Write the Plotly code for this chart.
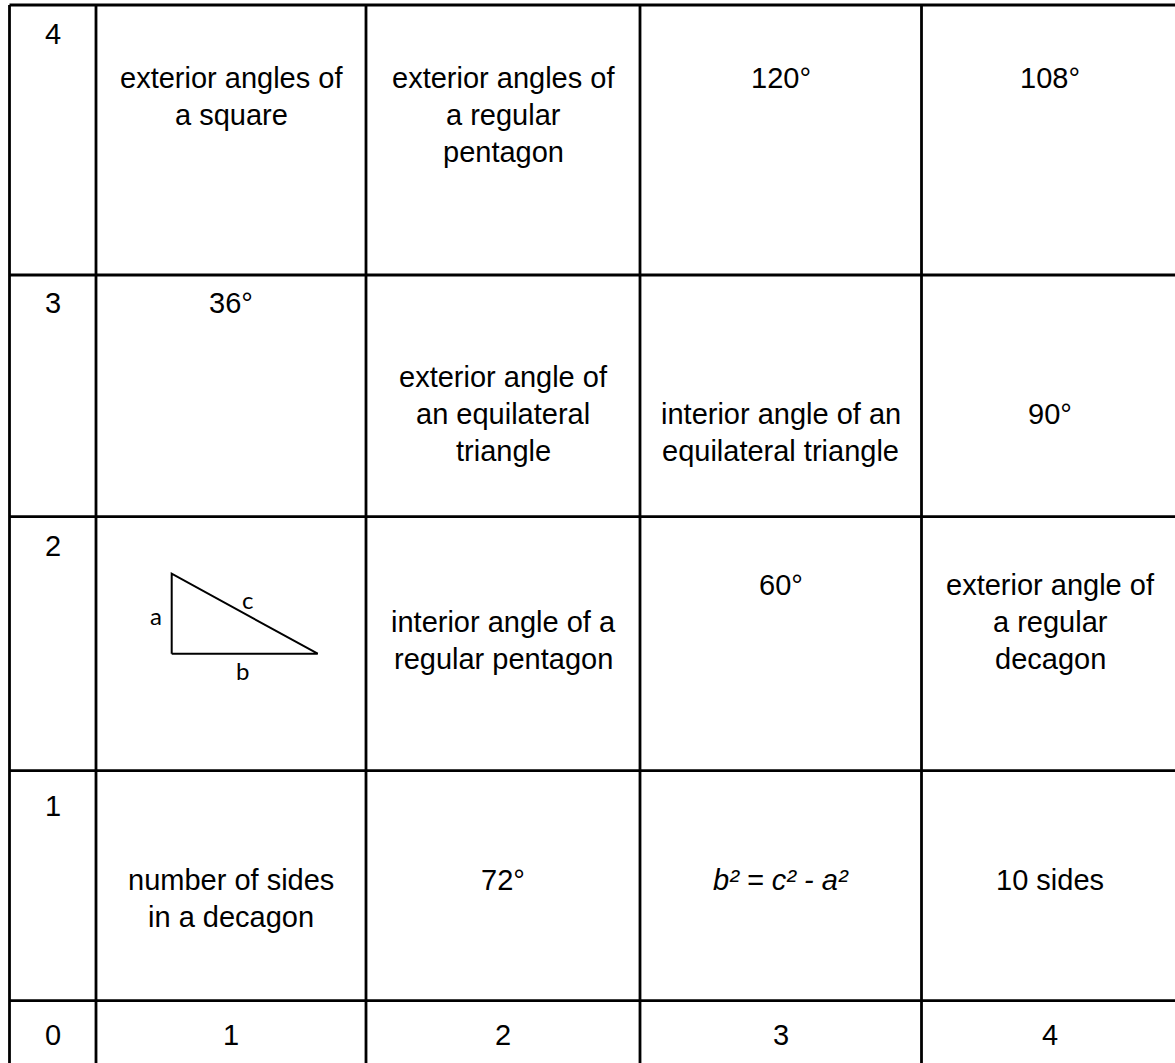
import plotly.graph_objects as go

# --- datos de la tabla ---
row_labels = ["4", "3", "2", "1", "0"]
col_labels = ["1", "2", "3", "4"]

# texto de cada celda, una lista por fila (filas 4..1), cada celda = lista de lineas
cells_row4 = [["exterior angles of", "a square"],
              ["exterior angles of", "a regular", "pentagon"],
              ["120°"],
              ["108°"]]
cells_row3 = [["36°"],
              ["exterior angle of", "an equilateral", "triangle"],
              ["interior angle of an", "equilateral triangle"],
              ["90°"]]
cells_row2 = [[],  # aqui va el triangulo
              ["interior angle of a", "regular pentagon"],
              ["60°"],
              ["exterior angle of", "a regular", "decagon"]]
cells_row1 = [["number of sides", "in a decagon"],
              ["72°"],
              ["<i>b² = c² - a²</i>"],
              ["10 sides"]]

# lineas en blanco antes del texto en cada celda
blank_row4 = [1, 1, 1, 1]
blank_row3 = [0, 2, 3, 3]
blank_row2 = [0, 2, 1, 1]
blank_row1 = [2, 2, 2, 2]

# triangulo rectangulo (catetos a y b)
tri_sides = ["a", "b", "c"]
tri_a = 80
tri_b = 146

# --- layout de la tabla (pixeles de la pagina) ---
COL_EDGES = [9.5, 96, 366, 640, 921.5, 1178.5]
ROW_EDGES = [5, 275, 516.7, 770.7, 1000.7, 1075]
LABEL_PAD = [29, 28, 29, 35, 34]   # centro del numero de fila respecto al borde superior
ROW_PAD = [36, 28, 31, 35, 34]     # centro de la primera linea de texto
LINE = 37
FONT = "Liberation Sans, Arial, sans-serif"
FSIZE = 29

fig = go.Figure()

col_mid = [(COL_EDGES[i] + COL_EDGES[i + 1]) / 2 for i in range(len(COL_EDGES) - 1)]
annotations = []


def add_text(x, y, txt, size=FSIZE, font=FONT):
    annotations.append(dict(x=x, y=y, xref="x", yref="y", text=txt, showarrow=False,
                            xanchor="center", yanchor="middle",
                            font=dict(family=font, size=size, color="#000000")))


body = [(cells_row4, blank_row4), (cells_row3, blank_row3),
        (cells_row2, blank_row2), (cells_row1, blank_row1)]

for r, lab in enumerate(row_labels):
    top = ROW_EDGES[r]
    add_text(col_mid[0], top + LABEL_PAD[r], lab)
    y0 = top + ROW_PAD[r]
    if r < len(body):
        cells, blanks = body[r]
        for c, lines in enumerate(cells):
            for i, ln in enumerate(lines):
                add_text(col_mid[c + 1], y0 + (blanks[c] + i) * LINE, ln)
    else:
        for c, lab2 in enumerate(col_labels):
            add_text(col_mid[c + 1], y0, lab2)

# triangulo en la celda (fila 2, columna 1)
tx0 = 171.7
ty0 = ROW_EDGES[2] + ROW_PAD[2] + 3 * LINE - 5
fig.add_trace(go.Scatter(x=[tx0, tx0, tx0 + tri_b, tx0], y=[ty0, ty0 - tri_a, ty0, ty0],
                         mode="lines", line=dict(color="#000000", width=2),
                         hoverinfo="skip", showlegend=False))
lab_font = "Lato, sans-serif"
add_text(tx0 - 16, ty0 - tri_a / 2 + 2, tri_sides[0], size=24, font=lab_font)
add_text(tx0 + tri_b / 2 - 2, ty0 + 17, tri_sides[1], size=24, font=lab_font)
add_text(tx0 + tri_b / 2 + 3, ty0 - tri_a / 2 - 14, tri_sides[2], size=24, font=lab_font)

# lineas de la cuadricula
shapes = []
for x in COL_EDGES[:-1]:
    shapes.append(dict(type="line", xref="x", yref="y", x0=x, x1=x, y0=ROW_EDGES[0], y1=1100,
                       line=dict(color="#000000", width=2.8)))
for y in ROW_EDGES[:-1]:
    shapes.append(dict(type="line", xref="x", yref="y", x0=COL_EDGES[0], x1=1200, y0=y, y1=y,
                       line=dict(color="#000000", width=2.8)))

fig.update_layout(
    width=1175, height=1063,
    margin=dict(l=0, r=0, t=0, b=0),
    paper_bgcolor="white", plot_bgcolor="white",
    xaxis=dict(range=[0, 1175], visible=False, fixedrange=True),
    yaxis=dict(range=[1063, 0], visible=False, fixedrange=True),
    shapes=shapes, annotations=annotations,
    showlegend=False,
)

# sin margen en el body para que la tabla quede pegada al borde, y sin barra de herramientas
fig.write_html("out.html", config={"displayModeBar": False},
               post_script="document.body.style.margin='0px';")
